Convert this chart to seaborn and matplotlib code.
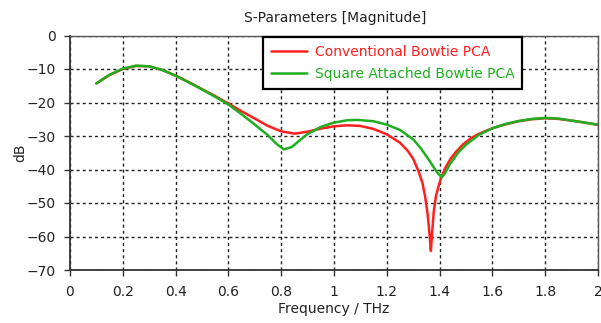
import numpy as np
import pandas as pd
import seaborn as sns
import matplotlib
matplotlib.use("Agg")
import matplotlib.pyplot as plt

# Frequency sweep (THz) and S-parameter magnitude (dB) for the two antenna designs
freq_conv = [0.10, 0.15, 0.20, 0.25, 0.30, 0.35, 0.40, 0.45, 0.50, 0.55, 0.60,
             0.65, 0.70, 0.75, 0.80, 0.85, 0.90, 0.95, 1.00, 1.05, 1.10, 1.15,
             1.20, 1.25, 1.28, 1.30, 1.32, 1.335, 1.345, 1.355, 1.362, 1.367,
             1.372, 1.378, 1.386, 1.395, 1.405, 1.42, 1.44, 1.46, 1.49, 1.52,
             1.55, 1.60, 1.65, 1.70, 1.75, 1.80, 1.85, 1.90, 1.95, 2.00]
db_conv = [-14.3, -11.8, -10.0, -9.1, -9.2, -10.3, -12.0, -13.9, -16.0, -18.1, -20.3,
           -22.6, -24.8, -27.0, -28.6, -29.3, -28.7, -27.8, -27.1, -26.8, -27.0, -27.9,
           -29.5, -32.0, -34.5, -36.8, -40.5, -44.0, -48.0, -53.5, -59.5, -64.3,
           -58.5, -52.5, -48.0, -45.3, -42.6, -39.8, -37.0, -34.9, -32.4, -30.6,
           -29.3, -27.7, -26.5, -25.6, -25.0, -24.7, -24.9, -25.4, -26.0, -26.7]

freq_sq = [0.10, 0.15, 0.20, 0.25, 0.30, 0.35, 0.40, 0.45, 0.50, 0.55, 0.60,
           0.65, 0.70, 0.75, 0.78, 0.81, 0.84, 0.87, 0.90, 0.95, 1.00, 1.05,
           1.09, 1.15, 1.20, 1.25, 1.30, 1.33, 1.36, 1.39, 1.408, 1.42, 1.44,
           1.47, 1.50, 1.55, 1.60, 1.65, 1.70, 1.75, 1.80, 1.85, 1.90, 1.95, 2.00]
db_sq = [-14.3, -11.7, -9.9, -9.0, -9.2, -10.3, -12.0, -14.0, -16.1, -18.3, -20.6,
         -23.5, -26.6, -29.8, -32.2, -34.0, -33.3, -31.3, -29.4, -27.3, -26.0, -25.3,
         -25.2, -25.6, -26.6, -28.2, -31.0, -33.8, -37.2, -40.8, -42.3, -41.2, -38.3,
         -35.0, -32.6, -29.6, -27.7, -26.4, -25.5, -24.9, -24.6, -24.8, -25.4, -26.0, -26.6]

series_names = ["Conventional Bowtie PCA", "Square Attached Bowtie PCA"]
series_colors = ["#ff1f1f", "#1fae1f"]

x_ticks = [0, 0.2, 0.4, 0.6, 0.8, 1, 1.2, 1.4, 1.6, 1.8, 2]
x_tick_labels = ["0", "0.2", "0.4", "0.6", "0.8", "1", "1.2", "1.4", "1.6", "1.8", "2"]
y_ticks = [0, -10, -20, -30, -40, -50, -60, -70]

df = pd.concat([
    pd.DataFrame({"Frequency": freq_conv, "dB": db_conv, "Design": series_names[0]}),
    pd.DataFrame({"Frequency": freq_sq, "dB": db_sq, "Design": series_names[1]}),
], ignore_index=True)

sns.set_theme(style="white")
plt.rcParams["font.family"] = ["DejaVu Sans"]

fig = plt.figure(figsize=(6.01, 3.23), dpi=100)
ax = fig.add_axes([70 / 601, 1 - 270 / 323, 528 / 601, 234.5 / 323])

sns.lineplot(data=df, x="Frequency", y="dB", hue="Design", hue_order=series_names,
             palette=series_colors, linewidth=1.8, sort=False, estimator=None,
             ax=ax, legend=True)

ax.set_xlim(0, 2)
ax.set_ylim(-70, 0)
ax.set_xticks(x_ticks)
ax.set_xticklabels(x_tick_labels)
ax.set_yticks(y_ticks)
ax.tick_params(axis="both", direction="out", length=4, width=1, color="#333333",
               labelsize=10, labelcolor="#222222", pad=6, bottom=True, left=True)
ax.tick_params(axis="x", pad=7)

ax.grid(True, color="#222222", linestyle=(0, (2.2, 2.2)), linewidth=1.0)
for side in ["left", "bottom"]:
    ax.spines[side].set_color("#333333")
    ax.spines[side].set_linewidth(1.3)
for side in ["top", "right"]:
    ax.spines[side].set_color("#555555")
    ax.spines[side].set_linewidth(1.0)

ax.set_xlabel("Frequency / THz", fontsize=10, color="#222222", labelpad=2)
ax.set_ylabel("dB", fontsize=10, color="#222222", labelpad=0)
fig.text(335 / 601, 1 - 18 / 323, "S-Parameters [Magnitude]", ha="center", va="center",
         fontsize=10, color="#222222")

leg = ax.legend(loc="upper left", bbox_to_anchor=((263 - 70) / 528, (270 - 37) / 234.5),
                borderaxespad=0, frameon=True, fancybox=False, fontsize=10,
                handlelength=2.6, handletextpad=0.6, borderpad=0.55, labelspacing=0.6)
leg.get_frame().set_edgecolor("black")
leg.get_frame().set_linewidth(1.6)
leg.get_frame().set_facecolor("white")
leg.get_frame().set_alpha(1)
for txt, col in zip(leg.get_texts(), series_colors):
    txt.set_color(col)

fig.savefig("out.png", dpi=100)
